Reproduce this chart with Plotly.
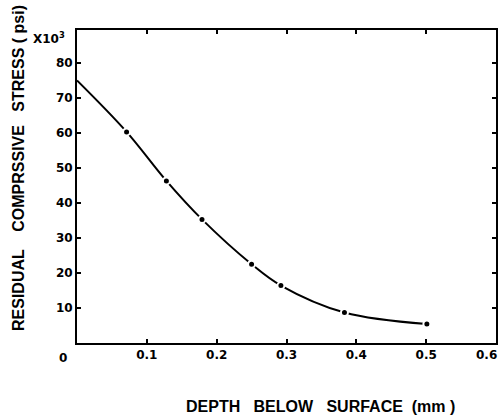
import plotly.graph_objects as go

# Data
depth_mm = [0.0, 0.071, 0.128, 0.179, 0.250, 0.292, 0.383, 0.501]
stress_kpsi = [75.0, 60.3, 46.3, 35.3, 22.5, 16.4, 8.7, 5.4]

x_tick_vals = [0.1, 0.2, 0.3, 0.4, 0.5, 0.6]
x_tick_text = ["0.1", "0.2", "0.3", "0.4", "0.5", "0.6"]
y_tick_vals = [10, 20, 30, 40, 50, 60, 70, 80]
y_tick_text = ["10", "20", "30", "40", "50", "60", "70", "80"]

TICK_FONT = dict(family="DejaVu Sans", size=12, color="black", weight="bold")
TITLE_FONT = dict(family="Liberation Sans", size=16, color="black", weight="bold")

fig = go.Figure()

# smooth curve through the points
fig.add_trace(go.Scatter(
    x=depth_mm, y=stress_kpsi, mode="lines",
    line=dict(color="black", width=2, shape="spline", smoothing=1.0),
    hoverinfo="skip", showlegend=False,
))
# measured points (white ring makes the little gaps in the line)
fig.add_trace(go.Scatter(
    x=depth_mm[1:], y=stress_kpsi[1:], mode="markers",
    marker=dict(color="black", size=7, line=dict(color="white", width=2)),
    showlegend=False,
))

axis_common = dict(
    showline=True, linecolor="black", linewidth=2, mirror="ticks",
    ticks="inside", ticklen=4, tickwidth=1.5, tickcolor="black",
    showgrid=False, zeroline=False, tickfont=TICK_FONT, automargin=False,
)

# the last x label (0.6) sits at the right edge; it is drawn as an annotation pulled inward
fig.update_xaxes(
    range=[0, 0.6], tickvals=x_tick_vals[:-1], ticktext=x_tick_text[:-1],
    ticklabeloverflow="allow", **axis_common,
)
fig.update_yaxes(
    range=[0, 89.4], tickvals=y_tick_vals, ticktext=y_tick_text,
    **axis_common,
)

W, H = 499, 417
ml, mr, mt, mb = 77, 3, 30, 74
pw, ph = W - ml - mr, H - mt - mb


def px_to_paper(px, py):
    return (px - ml) / pw, (H - mb - py) / ph


ann_list = []
ann_list.append(dict(text=x_tick_text[-1], x=x_tick_vals[-1], y=0, xref="x", yref="y",
                     showarrow=False, xanchor="right", yanchor="middle",
                     xshift=3, yshift=-12, font=TICK_FONT))
x0, y0 = px_to_paper(63, 358)
ann_list.append(dict(text="0", x=x0, y=y0, xref="paper", yref="paper",
                     showarrow=False, xanchor="center", yanchor="middle",
                     font=TICK_FONT))
x1, y1 = px_to_paper(67, 38)
ann_list.append(dict(text="X10<sup>3</sup>", x=x1, y=y1, xref="paper", yref="paper",
                     showarrow=False, xanchor="right", yanchor="middle",
                     font=TICK_FONT))
x2, y2 = px_to_paper(320, 406)
ann_list.append(dict(text="DEPTH   BELOW   SURFACE  (mm )", x=x2, y=y2,
                     xref="paper", yref="paper", showarrow=False,
                     xanchor="center", yanchor="middle", font=TITLE_FONT))
x3, y3 = px_to_paper(19, 168)
ann_list.append(dict(text="RESIDUAL    COMPRSSIVE   STRESS ( psi)", x=x3, y=y3,
                     xref="paper", yref="paper", showarrow=False, textangle=-90,
                     xanchor="center", yanchor="middle", font=TITLE_FONT))

fig.update_layout(
    width=W, height=H,
    margin=dict(l=ml, r=mr, t=mt, b=mb, autoexpand=False),
    paper_bgcolor="white", plot_bgcolor="white",
    annotations=ann_list,
    showlegend=False,
)

fig.write_html(
    "out.html",
    config={"displayModeBar": False},
    post_script="document.body.style.margin='0';document.body.style.overflow='hidden';",
)
